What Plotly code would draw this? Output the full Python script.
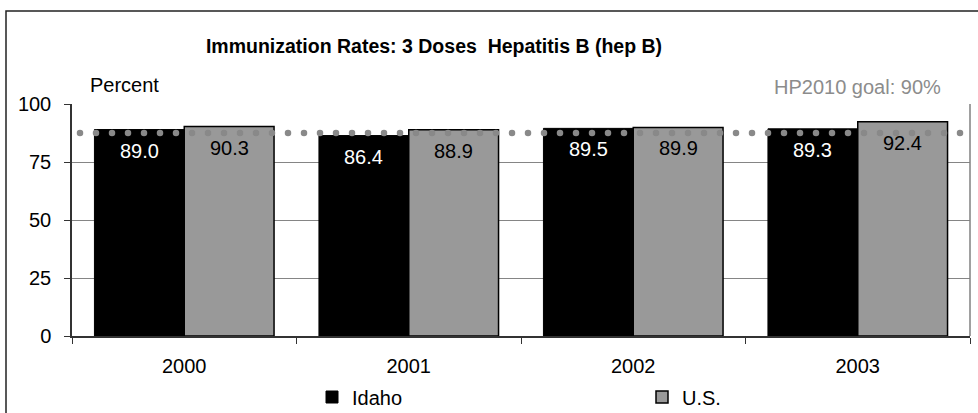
import numpy as np
import plotly.graph_objects as go

years = ["2000", "2001", "2002", "2003"]
idaho = [89.0, 86.4, 89.5, 89.3]
us = [90.3, 88.9, 89.9, 92.4]
goal_line = 87.5
goal_label = "HP2010 goal: 90%"
title = "Immunization Rates: 3 Doses  Hepatitis B (hep B)"
y_ticks = [0, 25, 50, 75, 100]

FONT = "Liberation Sans, Arial, sans-serif"
L, R, T, B = 72, 8, 104, 77
W, H = 978, 413
pw, ph = W - L - R, H - T - B

def px_x(p):
    return (p - L) / pw

def px_y(p):
    return (H - B - p) / ph

pos = np.arange(len(years))
x_lo, x_hi = -0.5, len(years) - 0.5
unit = pw / (x_hi - x_lo)

fig = go.Figure()
fig.add_trace(go.Bar(name="Idaho", x=pos, y=idaho, marker=dict(color="#000000", line=dict(color="#000000", width=1))))
fig.add_trace(go.Bar(name="U.S.", x=pos, y=us, marker=dict(color="#999999", line=dict(color="#000000", width=1.5))))

# dotted goal line (round dots, 16 px apart)
n_dots = 56
dot_x = np.linspace(x_lo + 8 / unit, x_lo + 888 / unit, n_dots)
fig.add_trace(go.Scatter(x=dot_x, y=[goal_line] * n_dots, mode="markers",
                         marker=dict(color="#898989", size=6.5), showlegend=False, hoverinfo="skip"))

for p, v in zip(pos, idaho):
    fig.add_annotation(x=p, y=v, xref="x", yref="y", text=f"{v:.1f}", showarrow=False,
                       xshift=-45, yshift=-21, font=dict(color="white", size=20, family=FONT))
for p, v in zip(pos, us):
    fig.add_annotation(x=p, y=v, xref="x", yref="y", text=f"{v:.1f}", showarrow=False,
                       xshift=45, yshift=-21, font=dict(color="black", size=20, family=FONT))

fig.add_annotation(x=px_x(88), y=px_y(85), xref="paper", yref="paper", text="Percent", showarrow=False,
                   xanchor="left", yanchor="middle", font=dict(size=20, family=FONT, color="black"))
fig.add_annotation(x=px_x(943), y=px_y(87), xref="paper", yref="paper", text=goal_label, showarrow=False,
                   xanchor="right", yanchor="middle", font=dict(size=20, family=FONT, color="#8c8c8c"))

# right plot border
fig.add_shape(type="line", xref="paper", yref="paper", x0=1, x1=1, y0=0, y1=1, line=dict(color="#808080", width=1.5))
# outer chart frame
fig.add_shape(type="rect", xref="paper", yref="paper", x0=px_x(6), x1=px_x(990), y0=px_y(425), y1=px_y(11),
              line=dict(color="#222222", width=1.5), layer="below")

fig.update_layout(
    width=W, height=H, autosize=False,
    margin=dict(l=L, r=R, t=T, b=B, pad=0, autoexpand=False),
    paper_bgcolor="white", plot_bgcolor="white",
    barmode="group", bargap=0.2, bargroupgap=0,
    font=dict(family=FONT, size=20, color="black"),
    title=dict(text=f"<b>{title}</b>", x=434 / W, xanchor="center", y=1 - 46 / H, yanchor="middle",
               xref="container", yref="container", font=dict(size=19.5, family=FONT, color="black")),
    xaxis=dict(range=[x_lo, x_hi], tickvals=pos, ticktext=years, showgrid=False, zeroline=False,
               showline=True, linecolor="#333333", linewidth=1.5, ticks="", automargin=False,
               minor=dict(tick0=x_lo, dtick=1, ticks="outside", ticklen=6, tickcolor="#333333", showgrid=False),
               ticklabelstandoff=11, tickfont=dict(size=20, family=FONT)),
    yaxis=dict(range=[0, 100], tickvals=y_ticks, showgrid=True, gridcolor="#858585", gridwidth=1.2,
               showline=True, linecolor="#333333", linewidth=1.5, ticks="outside", ticklen=6, automargin=False,
               tickcolor="#333333", ticklabelstandoff=9, tickfont=dict(size=20, family=FONT), zeroline=False),
    legend=dict(orientation="h", xref="container", yref="container", x=312 / W, xanchor="left",
                y=1 - 397 / H, yanchor="middle",
                entrywidth=285, entrywidthmode="pixels", font=dict(size=20, family=FONT),
                bgcolor="rgba(0,0,0,0)", itemwidth=30),
    showlegend=True,
)

fig.write_html("out.html", config={"displayModeBar": False},
               post_script="document.body.style.margin='0';document.body.style.overflow='hidden';")
